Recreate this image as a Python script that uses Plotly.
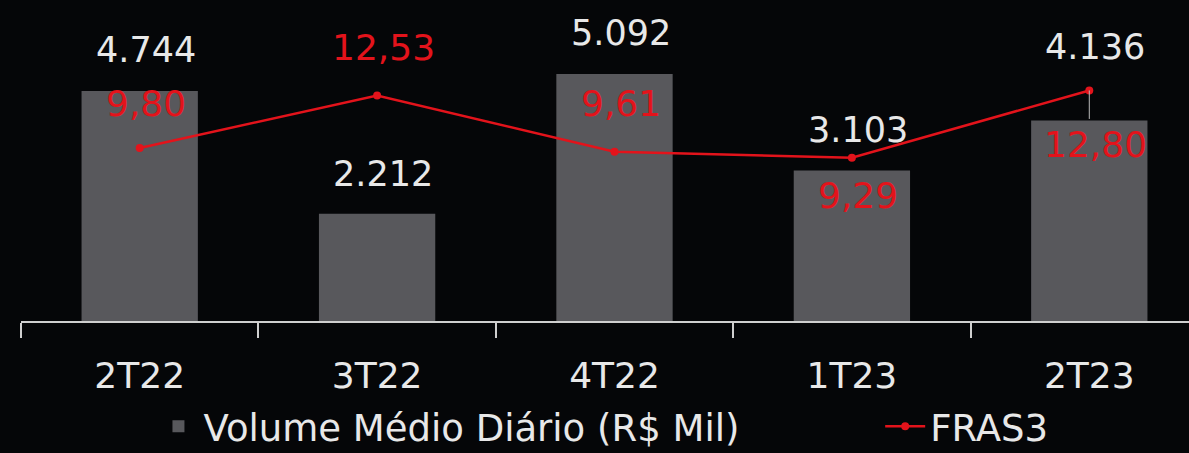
import plotly.graph_objects as go

categories = ["2T22", "3T22", "4T22", "1T23", "2T23"]
volume = [4744, 2212, 5092, 3103, 4136]
fras3 = [9.80, 12.53, 9.61, 9.29, 12.80]

vol_labels = [f"{v:,}".replace(",", ".") for v in volume]
fras_labels = [f"{v:.2f}".replace(".", ",") for v in fras3]

# label offsets (pixels) – style only
vol_shift = [41, 40, 41, 41, 73]
fras_shift = [45, 48, 48, -38, -54]

BG = "#050608"
GRAY = "#58585c"
RED = "#e3131b"
TXT = "#e8e8e8"
FONT = "DejaVu Sans, sans-serif"

fig = go.Figure()
fig.add_trace(go.Bar(
    x=categories, y=volume, name="Volume Médio Diário (R$ Mil)",
    marker=dict(color=GRAY, line=dict(width=0)), width=0.49, legend="legend",
))
fig.add_trace(go.Scatter(
    x=categories, y=fras3, name="FRAS3", yaxis="y2", mode="lines+markers",
    line=dict(color=RED, width=2.5), marker=dict(color=RED, size=8), legend="legend2",
))

ann = []
for c, v, t, s in zip(categories, volume, vol_labels, vol_shift):
    ann.append(dict(x=c, y=v, xref="x", yref="y", text=t, showarrow=False,
                    yanchor="middle", yshift=s, xshift=6,
                    font=dict(size=35, color=TXT, family=FONT)))
for c, v, t, s in zip(categories, fras3, fras_labels, fras_shift):
    ann.append(dict(x=c, y=v, xref="x", yref="y2", text=t, showarrow=False,
                    yanchor="middle", yshift=s, xshift=6,
                    font=dict(size=36, color=RED, family=FONT)))
# leader line on last point
ann.append(dict(x=categories[-1], y=fras3[-1], xref="x", yref="y2", text="",
                showarrow=True, arrowhead=0, arrowwidth=1, arrowcolor="#bbbbbb",
                ax=0, ay=30, standoff=0))

leg_common = dict(orientation="h", yref="container", yanchor="middle", y=0.058,
                  xanchor="left", font=dict(size=37, color=TXT, family=FONT),
                  bgcolor="rgba(0,0,0,0)", itemwidth=40)

fig.update_layout(
    width=1189, height=453,
    paper_bgcolor=BG, plot_bgcolor=BG,
    margin=dict(l=20.5, r=0, t=0, b=132, autoexpand=False),
    font=dict(family=FONT, color=TXT, size=36),
    showlegend=True,
    legend=dict(x=0.1134, **leg_common),
    legend2=dict(x=0.7356, **leg_common),
    xaxis=dict(range=[-0.5, 4.42], showgrid=False, showline=True, linecolor="#cfcfcf",
               linewidth=2, ticks="outside", tickson="boundaries", ticklen=15,
               tickcolor="#cfcfcf", tickwidth=1.5, tickfont=dict(size=36, color=TXT),
               ticklabelstandoff=22, zeroline=False, automargin=False),
    yaxis=dict(range=[0, 6619], visible=False, showgrid=False, zeroline=False),
    yaxis2=dict(range=[0.79, 17.51], overlaying="y", side="right", visible=False,
                showgrid=False, zeroline=False),
    annotations=ann,
)

fig.write_html("out.html", post_script="document.body.style.margin='0';",
               config={"displayModeBar": False})
